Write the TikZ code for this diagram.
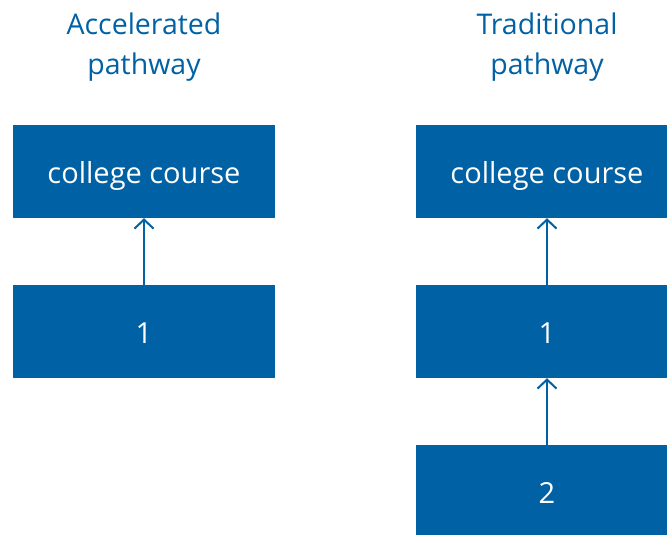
\documentclass[tikz,border=0pt]{standalone}
\usepackage{fontspec}
\setmainfont{Open Sans}
\usetikzlibrary{arrows.meta}
\definecolor{pblue}{RGB}{0,97,164}
\begin{document}
\begin{tikzpicture}[x=1pt,y=-1pt,
  box/.style={fill=pblue,minimum width=262pt,minimum height=93pt,inner sep=0pt},
  lbl/.style={text=white,inner sep=0pt,font=\fontsize{29}{34}\selectfont},
  title/.style={text=pblue,align=center,font=\fontsize{28.5}{40}\selectfont},
  conn/.style={draw=pblue,line width=2pt,-{Straight Barb[length=9pt,width=19pt,line width=2pt]}}]
\useasboundingbox (0,0) rectangle (667,535);
\clip (0,0) rectangle (667,535);
\node[title] (t1) at (144,47.5) {Accelerated\\pathway};
\node[title] (t2) at (547,47.5) {Traditional\\pathway};
\node[box] (a1) at (144,171.5) {};
\node[box] (a2) at (144,331.5) {};
\node[box] (b1) at (547,171.5) {};
\node[box] (b2) at (547,331.5) {};
\node[box] (b3) at (547,491.5) {};
\node[lbl] (la1) at (144,175.5) {college course};
\node[lbl] (la2) at (144,333) {1};
\node[lbl] (lb1) at (547,175.5) {college course};
\node[lbl] (lb2) at (547,333) {1};
\node[lbl] (lb3) at (547,493) {2};
\draw[conn] (a2.north) -- (a1.south);
\draw[conn] (b2.north) -- (b1.south);
\draw[conn] (b3.north) -- (b2.south);
\end{tikzpicture}
\end{document}
